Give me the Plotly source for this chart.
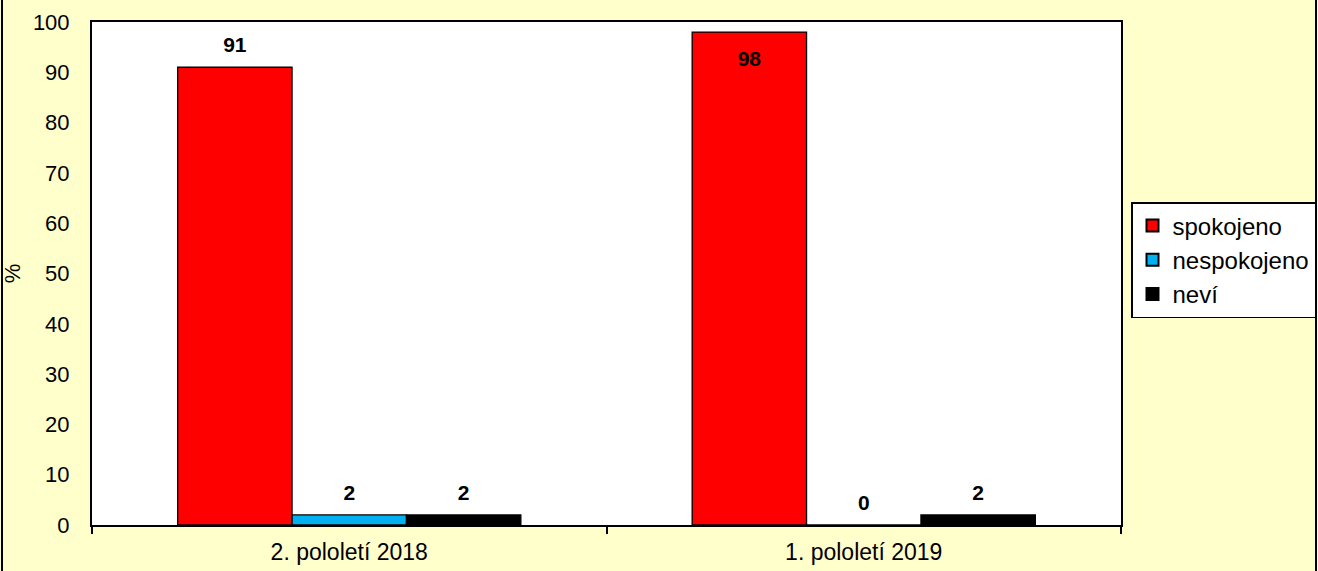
import plotly.graph_objects as go

categories = ["2. pololetí 2018", "1. pololetí 2019"]
series_names = ["spokojeno", "nespokojeno", "neví"]
spokojeno = [91, 98]
nespokojeno = [2, 0]
nevi = [2, 2]
series_values = [spokojeno, nespokojeno, nevi]
colors = ["#FF0000", "#00B0F0", "#000000"]
y_ticks = list(range(0, 101, 10))

FONT = "Arial, 'Liberation Sans', sans-serif"
BG = "#FFFFCC"

fig = go.Figure()
for name, vals, col in zip(series_names, series_values, colors):
    fig.add_trace(go.Bar(
        x=categories, y=vals, name=name,
        marker=dict(color=col, line=dict(color="#000000", width=1.3)),
        offsetgroup=name, hoverinfo="skip",
    ))
# data labels drawn as grouped text-scatter aligned with bars
for name, vals in zip(series_names, series_values):
    inside = [v > 95 for v in vals]
    pos = ["bottom center" if f else "top center" for f in inside]
    sizes = [28 if f else 14 for f in inside]
    fig.add_trace(go.Scatter(
        x=categories, y=vals, mode="markers+text",
        text=[str(v) for v in vals], textposition=pos,
        textfont=dict(family=FONT, size=21, color="#000000"),
        texttemplate="<b>%{text}</b>",
        marker=dict(size=sizes, opacity=0),
        offsetgroup=name, showlegend=False, hoverinfo="skip",
        cliponaxis=False,
    ))

W, H = 1318, 571
L, R, T, B = 92, 197, 22, 46
pw, ph = W - L - R, H - T - B

def px_x(p):
    return (p - L) / pw

def px_y(p):
    return (H - B - p) / ph

fig.update_layout(
    width=W, height=H,
    margin=dict(l=L, r=R, t=T, b=B, autoexpand=False),
    paper_bgcolor=BG, plot_bgcolor="#FFFFFF",
    barmode="group", bargap=0.333, bargroupgap=0,
    scattermode="group", scattergap=0.333,
    font=dict(family=FONT, size=23, color="#000000"),
    showlegend=True,
    legend=dict(
        xref="container", yref="container",
        x=1131 / W, y=1 - 202 / H, xanchor="left", yanchor="top",
        bgcolor="#FFFFFF", bordercolor="#000000", borderwidth=1.5,
        font=dict(family=FONT, size=24, color="#000000"),
        tracegroupgap=0, itemsizing="constant",
    ),
    xaxis=dict(
        showline=True, linecolor="#000000", linewidth=2, mirror=True,
        ticks="outside", ticklen=7, tickcolor="#000000", tickwidth=2,
        tickson="boundaries", showgrid=False, ticklabelstandoff=5,
        automargin=False,
        tickfont=dict(family=FONT, size=23, color="#000000"),
    ),
    yaxis=dict(
        range=[0, 100], tickvals=y_ticks, showgrid=False, zeroline=False,
        showline=True, linecolor="#000000", linewidth=2, mirror=True,
        ticks="", ticklabelstandoff=16, automargin=False,
        tickfont=dict(family=FONT, size=22, color="#000000"),
        title=dict(text="%", font=dict(family=FONT, size=22, color="#000000"), standoff=10),
    ),
    shapes=[dict(
        type="rect", xref="paper", yref="paper",
        x0=px_x(2), x1=px_x(1316), y0=px_y(575), y1=px_y(-5),
        line=dict(color="#000000", width=2), fillcolor="rgba(0,0,0,0)", layer="below",
    )],
)

fig.write_html(
    "out.html",
    config={"displayModeBar": False},
    post_script="document.body.style.margin='0';document.body.style.overflow='hidden';",
)
